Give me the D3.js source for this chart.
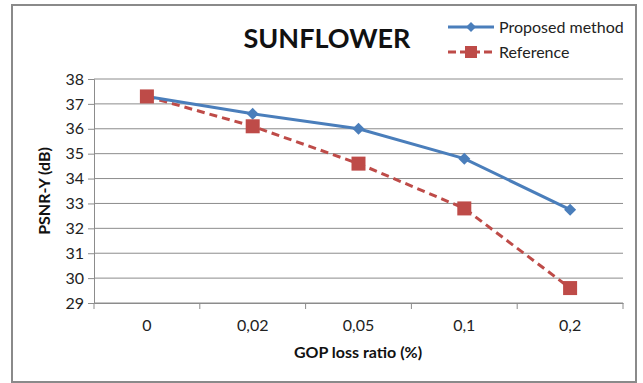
<!DOCTYPE html>
<html>
<head>
<meta charset="utf-8">
<script src="https://cdn.jsdelivr.net/npm/d3@7"></script>
<style>
  body { margin: 0; background: #fff; }
  text { font-family: Lato, 'Open Sans', sans-serif; }
</style>
</head>
<body>
<div id="chart"></div>
<script>
const categories = ['0', '0,02', '0,05', '0,1', '0,2']
const proposed = [37.3, 36.6, 36.0, 34.8, 32.75]
const reference = [37.3, 36.1, 34.6, 32.8, 29.6]
const yTicks = [29, 30, 31, 32, 33, 34, 35, 36, 37, 38]

const W = 643, H = 383
const margin = { left: 94, right: 20, top: 79, bottom: 80 }
const width = 623 - margin.left
const height = 303 - margin.top

const svg = d3.select('#chart').append('svg')
  .attr('width', W)
  .attr('height', H)

// outer frame
svg.append('rect')
  .attr('x', 12).attr('y', 5)
  .attr('width', 624).attr('height', 377)
  .attr('fill', '#fff')
  .attr('stroke', '#8a8a8a')
  .attr('stroke-width', 2)

const g = svg.append('g')
  .attr('transform', `translate(${margin.left}, ${margin.top})`)

const x = d3.scaleBand()
  .domain(categories)
  .range([0, width])

const y = d3.scaleLinear()
  .domain([29, 38])
  .range([height, 0])

// gridlines
g.selectAll('.grid')
  .data(yTicks)
  .enter().append('line')
  .attr('x1', 0).attr('x2', width)
  .attr('y1', d => y(d)).attr('y2', d => y(d))
  .attr('stroke', '#8c8c8c')
  .attr('stroke-width', 1)

// y axis
const yAxis = g.append('g')
  .call(d3.axisLeft(y).tickValues(yTicks).tickSize(6).tickPadding(4))
yAxis.select('.domain').attr('stroke', '#8c8c8c')
yAxis.selectAll('.tick line').attr('stroke', '#8c8c8c')
yAxis.selectAll('text')
  .attr('font-size', '16px')
  .attr('fill', '#222')
  .style('font-family', 'Lato, sans-serif')

// x axis
const xAxis = g.append('g')
  .attr('transform', `translate(0, ${height})`)
  .call(d3.axisBottom(x).tickSize(0).tickPadding(17))
xAxis.select('.domain').attr('stroke', '#8c8c8c')
xAxis.selectAll('text')
  .attr('font-size', '16px')
  .attr('fill', '#222')
  .style('font-family', 'Lato, sans-serif')

// x category boundary ticks
const bounds = categories.map(c => x(c)).concat([width])
g.selectAll('.xtick')
  .data(bounds)
  .enter().append('line')
  .attr('x1', d => d).attr('x2', d => d)
  .attr('y1', height).attr('y2', height + 6)
  .attr('stroke', '#8c8c8c')

const cx = c => x(c) + x.bandwidth() / 2

const line = d3.line()
  .x((d, i) => cx(categories[i]))
  .y(d => y(d))

const blue = '#4a7ebb'
const red = '#be4b48'

g.append('path')
  .datum(reference)
  .attr('d', line)
  .attr('fill', 'none')
  .attr('stroke', red)
  .attr('stroke-width', 3)
  .attr('stroke-dasharray', '8,5')

g.append('path')
  .datum(proposed)
  .attr('d', line)
  .attr('fill', 'none')
  .attr('stroke', blue)
  .attr('stroke-width', 3)

const diamond = d3.symbol().type(d3.symbolSquare).size(72)

g.selectAll('.dia')
  .data(proposed)
  .enter().append('path')
  .attr('d', diamond)
  .attr('transform', (d, i) => `translate(${cx(categories[i])}, ${y(d)}) rotate(45)`)
  .attr('fill', blue)

g.selectAll('.sq')
  .data(reference)
  .enter().append('rect')
  .attr('x', (d, i) => cx(categories[i]) - 7)
  .attr('y', d => y(d) - 7)
  .attr('width', 14).attr('height', 14)
  .attr('fill', red)

// title
svg.append('text')
  .attr('x', 327)
  .attr('y', 48)
  .attr('text-anchor', 'middle')
  .attr('font-size', '27px')
  .attr('font-weight', 'bold')
  .attr('fill', '#111')
  .text('SUNFLOWER')

// axis titles
svg.append('text')
  .attr('x', 358)
  .attr('y', 358)
  .attr('text-anchor', 'middle')
  .attr('font-size', '16px')
  .attr('font-weight', 'bold')
  .attr('fill', '#111')
  .text('GOP loss ratio (%)')

svg.append('text')
  .attr('transform', `translate(50, ${margin.top + height / 2}) rotate(-90)`)
  .attr('text-anchor', 'middle')
  .attr('font-size', '16px')
  .attr('font-weight', 'bold')
  .attr('fill', '#111')
  .text('PSNR-Y (dB)')

// legend
const legend = svg.append('g').attr('transform', 'translate(448, 27)')
const items = [
  { name: 'Proposed method', color: blue, dash: null, shape: 'diamond' },
  { name: 'Reference', color: red, dash: '8,4', shape: 'square' }
]
items.forEach((it, i) => {
  const row = legend.append('g').attr('transform', `translate(0, ${i * 25})`)
  row.append('line')
    .attr('x1', 0).attr('x2', 46)
    .attr('stroke', it.color)
    .attr('stroke-width', 3)
    .attr('stroke-dasharray', it.dash)
  if (it.shape === 'diamond') {
    row.append('path')
      .attr('d', d3.symbol().type(d3.symbolSquare).size(50))
      .attr('transform', 'translate(23, 0) rotate(45)')
      .attr('fill', it.color)
  } else {
    row.append('rect')
      .attr('x', 17).attr('y', -6)
      .attr('width', 12).attr('height', 12)
      .attr('fill', it.color)
  }
  row.append('text')
    .attr('x', 51)
    .attr('y', 5.5)
    .attr('font-size', '16px')
    .attr('fill', '#222')
    .text(it.name)
})
</script>
</body>
</html>
